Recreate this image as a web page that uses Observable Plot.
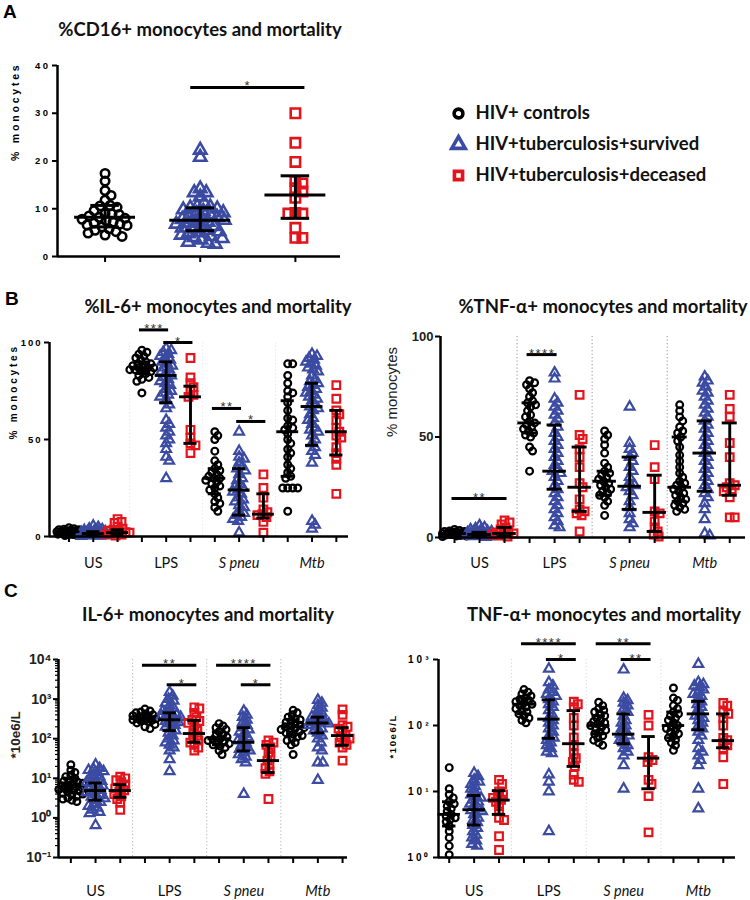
<!DOCTYPE html>
<html><head><meta charset="utf-8">
<script src="https://cdn.jsdelivr.net/npm/d3@7"></script>
<script src="https://cdn.jsdelivr.net/npm/@observablehq/plot@0.6"></script>
<style>
body{margin:0;background:#fff;}
#root{position:relative;width:750px;height:900px;overflow:hidden;background:#fff;}
.pane{position:absolute;}
.pane svg{overflow:visible;}
.tickA g[aria-label="y-axis tick label"] text{letter-spacing:2.5px;}
.tickB g[aria-label="y-axis tick label"] text{letter-spacing:2px;}
.tickCR g[aria-label="y-axis tick label"] text{letter-spacing:3px;}
g[aria-description="ylab-spaced"] text{letter-spacing:2.8px;}
g[aria-description="ylab-spaced2"] text{letter-spacing:1.6px;}
g[aria-description="stars"] text{letter-spacing:1.5px;}
</style></head><body><div id="root"></div>
<script>
// ---------- categories / series ----------
const stimuli = ["US", "LPS", "S pneu", "Mtb"];
const stimItalic = [false, false, true, true];
const seriesNames = ["HIV+ controls", "HIV+tuberculosis+survived", "HIV+tuberculosis+deceased"];
const seriesSymbols = ["circle", "triangle", "square"];
const seriesColors = ["#000000", "#3B4BA2", "#E3151C"];

// ---------- Panel A: %CD16+ monocytes ----------
const cd16Controls = [17.4, 15.8, 13.8, 12.8, 11.8, 10.7, 10.6, 10.3, 9.6, 9.0, 8.9, 8.8, 8.5, 8.2, 8.0, 7.8, 7.5, 7.2, 7.0, 6.8, 6.6, 6.5, 6.2, 5.8, 5.5, 5.2, 4.9, 4.5, 4.2];
const cd16Survived = [22.3, 20.8, 14.2, 13.4, 13.4, 12.5, 11.2, 10.5, 10.4, 10.2, 10.0, 9.8, 9.5, 9.2, 9.0, 8.8, 8.5, 8.2, 8.0, 7.8, 7.6, 7.4, 7.2, 7.0, 6.8, 6.5, 6.3, 6.0, 5.8, 5.5, 5.2, 5.0, 4.8, 4.5, 4.2, 4.0, 3.8, 3.5, 3.0, 2.8, 2.6];
const cd16Deceased = [30.0, 23.8, 19.8, 15.8, 15.3, 14.3, 13.6, 12.3, 9.0, 9.0, 9.1, 6.0, 3.9, 3.9];
const cd16Median = [8.2, 7.6, 12.9];
const cd16Q1 = [6.2, 5.4, 8.0];
const cd16Q3 = [10.7, 10.2, 16.9];
const cd16Sig = [{from: 1, to: 2, y: 35.4, label: "*"}];

// ---------- Panel B left: %IL-6+ monocytes (per stimulus: US, LPS, S pneu, Mtb) ----------
const il6PctControls = [
  [4.5, 4, 3.8, 3.5, 3.2, 3, 3, 2.8, 2.5, 2.5, 2.2, 2, 2, 1.8, 1.5, 1.5, 1.2, 1, 1, 0.8, 0.5, 3.5, 2.7, 2.3, 1.7, 1.3],
  [96, 95, 94, 93, 92, 91, 90, 89, 89, 88, 88, 87, 87, 87, 86, 86, 85, 85, 84, 83, 82, 81, 80, 74],
  [54, 52, 50, 44, 39, 37, 35, 34, 33, 32, 31, 30, 30, 29, 28, 27, 26, 25, 24, 22, 20, 18, 17, 15, 13],
  [89, 89, 83, 79, 75, 74, 72, 69, 65, 61, 60, 57, 56, 55, 53, 50, 48, 45, 43, 41, 37, 35, 33, 31, 30, 25, 25, 25, 25, 13]];
const il6PctSurvived = [
  [5.5, 4.8, 4, 3.6, 3.2, 3, 2.8, 2.5, 2.2, 2, 2, 1.8, 1.6, 1.5, 1.4, 1.2, 1, 1, 0.9, 0.8, 0.6, 0.5, 0.4, 0.3, 0.2, 1.3, 1.1, 0.7, 1.7, 2.4],
  [97, 96, 95, 94, 93, 92, 91, 90, 89, 88, 87, 86, 85, 84, 83, 82, 81, 80, 79, 78, 76, 75, 74, 73, 72, 70, 68, 66, 60, 58, 56, 54, 52, 50, 48, 45, 41, 39, 30],
  [54, 44, 41, 40, 38, 36, 35, 34, 32, 30, 29, 27, 26, 25, 24, 23, 22, 20, 19, 18, 16, 15, 13, 12, 11, 10, 9, 8, 2],
  [94, 93, 92, 91, 90, 89, 88, 87, 86, 85, 83, 81, 80, 79, 78, 77, 76, 75, 74, 73, 72, 71, 70, 68, 67, 66, 65, 63, 61, 60, 58, 56, 55, 54, 52, 50, 48, 46, 44, 42, 38, 8, 6, 4]];
const il6PctDeceased = [
  [9, 7.5, 7, 5, 4, 3.5, 3, 2.5, 2, 1.5, 1.2, 1, 0.5, 2.2],
  [92, 82, 79, 77, 75, 73, 72, 55, 51, 48, 47, 43],
  [32, 25, 20, 14, 12.5, 11.5, 11, 10, 7.5, 2],
  [78, 71, 65, 63, 60, 56, 54, 52, 51, 46, 43, 40, 37, 22]];
const il6PctMedian = [2.5, 1.5, 2, 87, 83, 72, 30, 24, 11.5, 54, 67, 54];
const il6PctQ1 = [1.5, 0.8, 1, 84, 69, 48, 22, 11, 9.5, 31, 47, 42];
const il6PctQ3 = [3.2, 2.5, 3.5, 90, 90, 77.5, 35, 35, 22, 70, 79, 65];
const il6PctSig = [
  {from: 3, to: 4, y: 106.5, label: "***"}, {from: 4, to: 5, y: 100, label: "*"},
  {from: 6, to: 7, y: 66, label: "**"}, {from: 7, to: 8, y: 59.3, label: "*"}];

// ---------- Panel B right: %TNF-α+ monocytes ----------
const tnfPctControls = [
  [4, 3.5, 3, 3, 2.8, 2.5, 2.2, 2, 2, 1.8, 1.5, 1.2, 1, 0.8, 0.5, 3.2, 2.6, 1.6, 1.3, 0.7],
  [78, 77, 76, 74, 72, 70, 68, 67, 66, 65, 63, 61, 60, 58, 57, 56, 55, 54, 53, 52, 51, 50, 45, 43, 33],
  [53, 51, 49, 46, 42, 37, 35, 33, 32, 31, 30, 29, 28, 27, 26, 25, 24, 23, 22, 21, 20, 18, 16, 11],
  [66, 63, 60, 58, 55, 53, 52, 50, 48, 45, 41, 38, 35, 32, 30, 28, 27, 26, 25, 24, 23, 22, 21, 20, 19, 18, 17, 16, 15, 14, 13]];
const tnfPctSurvived = [
  [6, 5, 4.5, 4, 3.5, 3, 2.5, 2.2, 2, 1.8, 1.5, 1.4, 1.2, 1, 0.8, 0.6, 0.4, 0.2, 1.6, 2.7, 3.2, 1.1, 0.9],
  [82, 79, 69, 67, 65, 63, 61, 59, 57, 55, 52, 50, 48, 46, 44, 42, 40, 38, 36, 34, 33, 32, 30, 28, 26, 24, 22, 20, 18, 16, 14, 12, 10, 8, 6, 5],
  [65, 47, 44, 42, 40, 38, 35, 33, 30, 27, 26, 25, 23, 21, 18, 15, 12, 9, 7, 5],
  [80, 78, 77, 75, 73, 72, 70, 68, 66, 64, 62, 60, 58, 56, 54, 52, 50, 48, 46, 44, 42, 40, 38, 36, 34, 32, 30, 28, 26, 24, 22, 20, 17, 14, 9, 2, 1]];
const tnfPctDeceased = [
  [8.5, 7.5, 6.5, 5, 4, 3, 2.5, 2, 1.5, 1, 0.5, 2.2],
  [71, 51, 49, 44, 40, 35, 27, 25, 19, 14, 13, 12, 11, 3],
  [46, 35, 29, 13, 12, 8, 5, 3, 1.5, 0.5],
  [71, 64, 60, 47, 40, 27, 26, 25, 24, 23, 20, 10, 10]];
const tnfPctMedian = [2, 1.5, 2, 57, 33, 25, 28, 25.5, 12.5, 25, 42, 26];
const tnfPctQ1 = [1, 0.8, 0.5, 52, 24, 13, 21, 14, 3, 18, 23, 21];
const tnfPctQ3 = [3, 2.6, 5, 67, 56, 45, 33, 40, 31, 50, 58, 57];
const tnfPctSig = [{from: 0, to: 2, y: 19.4, label: "**"}, {from: 3, to: 4, y: 91, label: "****"}];

// ---------- Panel C left: IL-6+ monocytes (*10e6/L) ----------
const il6AbsControls = [
  [22, 16, 14, 12, 11, 10, 9, 8.5, 8, 7.5, 7, 6.8, 6.5, 6.2, 6, 5.8, 5.5, 5.2, 5, 4.8, 4.5, 4.2, 4, 3.8, 3.5, 3.2, 3, 2.8, 2.6],
  [560, 500, 470, 450, 420, 400, 380, 360, 340, 330, 320, 310, 300, 290, 280, 270, 250, 230, 200, 180],
  [240, 210, 190, 170, 150, 130, 120, 110, 100, 95, 90, 85, 80, 75, 70, 65, 60, 50, 40],
  [520, 450, 400, 350, 320, 300, 280, 260, 240, 220, 210, 200, 190, 180, 170, 160, 150, 140, 130, 120, 110, 100, 90, 80, 70, 40]];
const il6AbsSurvived = [
  [22, 18, 17, 16, 15, 14, 12, 11, 10, 9, 8.5, 8, 7.5, 7, 6.5, 6, 5.5, 5, 4.7, 4.4, 4, 3.7, 3.4, 3.1, 2.8, 2.5, 2.2, 2, 1.8, 1.6, 1.4, 1.3, 0.65],
  [1500, 1200, 1000, 900, 800, 700, 600, 550, 500, 450, 420, 400, 380, 350, 320, 300, 280, 260, 240, 220, 200, 180, 160, 140, 120, 100, 90, 80, 70, 60, 50, 30, 15],
  [500, 400, 350, 300, 260, 220, 190, 170, 150, 130, 110, 100, 90, 80, 70, 60, 55, 50, 45, 40, 35, 30, 25, 4],
  [950, 800, 700, 600, 520, 450, 400, 360, 330, 300, 280, 260, 250, 240, 220, 200, 180, 160, 140, 120, 100, 80, 60, 50, 25, 25, 9]];
const il6AbsDeceased = [
  [11, 10, 9, 8, 7, 6, 5.5, 5, 4.5, 4, 3.5, 3, 2.4, 1.6],
  [620, 580, 450, 350, 300, 280, 250, 200, 160, 140, 120, 100, 90, 80, 70, 60, 50],
  [90, 80, 70, 60, 45, 35, 28, 22, 18, 15, 13, 3],
  [550, 400, 220, 200, 180, 150, 120, 110, 100, 90, 80, 70, 60, 28]];
const il6AbsMedian = [6.5, 4.9, 4.9, 330, 300, 135, 100, 81, 28, 200, 250, 120];
const il6AbsQ1 = [4.5, 2.8, 3.3, 270, 160, 81, 70, 49, 14, 130, 140, 68];
const il6AbsQ3 = [10, 7.6, 6.9, 420, 450, 290, 150, 190, 68, 300, 350, 190];
const il6AbsSig = [
  {from: 3, to: 5, y: 7200, label: "**"}, {from: 4, to: 5, y: 2300, label: "*"},
  {from: 6, to: 8, y: 7200, label: "****"}, {from: 7, to: 8, y: 2300, label: "*"}];

// ---------- Panel C right: TNF-α+ monocytes (*10e6/L) ----------
const tnfAbsControls = [
  [23, 11, 9, 8, 7, 6.5, 6, 5.5, 5, 4.5, 4.2, 4, 3.8, 3.5, 3, 2.5, 2, 1.5, 1.1],
  [350, 320, 300, 280, 260, 250, 240, 230, 220, 210, 200, 190, 180, 170, 160, 150, 140, 130, 120, 110],
  [225, 200, 180, 170, 160, 150, 140, 130, 120, 115, 110, 105, 100, 95, 90, 85, 80, 75, 70, 65, 60, 55, 50],
  [370, 260, 240, 200, 180, 160, 150, 140, 130, 120, 110, 100, 95, 90, 85, 80, 75, 70, 65, 60, 55, 50, 42]];
const tnfAbsSurvived = [
  [19, 17, 15, 14, 13, 12, 11, 10, 9, 8.5, 8, 7.5, 7, 6.5, 6, 5.5, 5.2, 5, 4.5, 4, 3.7, 3.4, 3.1, 2.8, 2.5, 2.2, 2, 1.8, 1.6, 1.5],
  [720, 450, 400, 350, 320, 300, 280, 250, 230, 210, 190, 170, 150, 130, 120, 110, 100, 90, 80, 70, 65, 60, 55, 50, 45, 40, 38, 18, 14, 10, 2.5],
  [700, 260, 240, 220, 200, 180, 160, 140, 120, 110, 100, 90, 80, 75, 70, 65, 60, 55, 50, 45, 40, 35, 25, 11],
  [850, 450, 420, 400, 380, 350, 320, 300, 280, 250, 230, 210, 190, 170, 150, 140, 130, 120, 110, 100, 90, 80, 70, 60, 45, 40, 35, 30, 25, 11, 5.5]];
const tnfAbsDeceased = [
  [15, 13, 10, 9, 8.5, 8, 7.5, 7, 6, 5, 4, 3.7, 2.1, 1.3],
  [230, 210, 190, 130, 100, 66, 50, 37, 32, 28, 24, 18, 15, 14],
  [145, 100, 33, 30, 28, 15, 13, 8.5, 2.4],
  [220, 200, 160, 150, 130, 100, 65, 60, 55, 50, 45, 33, 13]];
const tnfAbsMedian = [4.5, 5.3, 7.4, 210, 125, 53, 100, 74, 32, 100, 150, 59];
const tnfAbsQ1 = [3, 3.1, 4.5, 150, 64, 24, 75, 53, 11, 65, 86, 46];
const tnfAbsQ3 = [7, 8.7, 10.3, 260, 245, 168, 140, 150, 68, 160, 233, 150];
const tnfAbsSig = [
  {from: 3, to: 5, y: 1730, label: "****"}, {from: 4, to: 5, y: 1000, label: "*"},
  {from: 6, to: 8, y: 1730, label: "**"}, {from: 7, to: 8, y: 1000, label: "**"}];

// ---------- helpers ----------
const supMap = {"-": "⁻", "0": "⁰", "1": "¹", "2": "²", "3": "³", "4": "⁴", "5": "⁵", "6": "⁶", "7": "⁷", "8": "⁸", "9": "⁹"};
const powFmt = d => "10" + String(Math.round(Math.log10(d))).split("").map(c => supMap[c]).join("");

function swarmOffsets(values, yPx, d, maxHalf) {
  const order = values.map((v, i) => i).sort((a, b) => yPx(values[a]) - yPx(values[b]));
  const placed = [], out = new Array(values.length).fill(0);
  for (const i of order) {
    const y = yPx(values[i]);
    let best = 0, bestD = -1;
    for (let k = 0; k <= 2 * maxHalf; k++) {
      const off = k === 0 ? 0 : (k % 2 ? 1 : -1) * Math.ceil(k / 2);
      let m = Infinity;
      for (const p of placed) { const dd = Math.hypot(p[0] - off, p[1] - y); if (dd < m) m = dd; }
      if (m >= d) { best = off; bestD = Infinity; break; }
      if (m > bestD + 0.01) { bestD = m; best = off; }
    }
    placed.push([best, y]); out[i] = best;
  }
  return out;
}

const root = document.getElementById("root");
const FONT = "'Liberation Sans', Arial, sans-serif";

function drawPanel(c) {
  const nStim = c.series[0].length;
  const nGroups = nStim * 3;
  const yPx = (c.yType === "log" ? d3.scaleLog() : d3.scaleLinear()).domain(c.yDomain).range([c.height - c.mB, c.mT]);
  const ppu = (c.width - c.mL - c.mR) / (c.xDomain[1] - c.xDomain[0]);
  const pts = [[], [], []];
  c.series.forEach((stimArrays, s) => stimArrays.forEach((vals, k) => {
    const g = k * 3 + s;
    const offs = swarmOffsets(vals, yPx, c.swarmD, c.swarmMax);
    vals.forEach((v, i) => pts[s].push({x: g + offs[i] / ppu, y: v}));
  }));
  const stats = c.med.map((m, g) => ({g, med: m, q1: c.q1[g], q3: c.q3[g]}));
  const sig = c.sig.map(d => ({...d, x1: d.from - 0.1, x2: d.to + 0.1, xm: (d.from + d.to) / 2}));
  const marks = [];
  if (c.sepOpacity) {
    marks.push(Plot.ruleX(d3.range(1, nStim).map(k => k * 3 - 0.5), {stroke: "#777", strokeOpacity: c.sepOpacity, strokeWidth: 1, strokeDasharray: "1.2,2.3"}));
  }
  pts.forEach((p, s) => marks.push(Plot.dot(p, {x: "x", y: "y", symbol: seriesSymbols[s], r: c.r[s], stroke: seriesColors[s], fill: "none", strokeWidth: c.sw})));
  marks.push(
    Plot.ruleX(stats, {x: "g", y1: "q1", y2: "q3", strokeWidth: c.ebW, stroke: "#000"}),
    Plot.ruleY(stats, {y: "q1", x1: d => d.g - c.capHalf, x2: d => d.g + c.capHalf, strokeWidth: c.ebW, stroke: "#000"}),
    Plot.ruleY(stats, {y: "q3", x1: d => d.g - c.capHalf, x2: d => d.g + c.capHalf, strokeWidth: c.ebW, stroke: "#000"}),
    Plot.ruleY(stats, {y: "med", x1: d => d.g - c.medHalf, x2: d => d.g + c.medHalf, strokeWidth: c.ebW, stroke: "#000"}),
    Plot.ruleY(sig, {y: "y", x1: "x1", x2: "x2", strokeWidth: 3, stroke: "#000"}),
    Plot.text(sig, {x: "xm", y: "y", text: "label", lineAnchor: "bottom", dy: 3, fontSize: 13, fill: "#333", fontFamily: FONT, ariaDescription: "stars"}),
    Plot.ruleX([c.xDomain[0]], {strokeWidth: 2.5, stroke: "#000"}),
    Plot.ruleY([c.yDomain[0]], {strokeWidth: 2.5, stroke: "#000"}),
    Plot.axisY({ticks: c.yTicks, tickFormat: c.yFmt, tickSize: 5, tickPadding: c.tickPad ?? 2, strokeWidth: 2, fontSize: c.tickFont, fontWeight: c.tickWeight, fontFamily: FONT, fill: c.tickColor || "#000", label: null}),
    Plot.axisX({ticks: d3.range(nGroups), tickSize: 6, strokeWidth: 2, tickFormat: () => "", label: null})
  );
  if (c.minorTicks) marks.push(Plot.axisY({ticks: c.minorTicks, tickSize: 3, strokeWidth: 1.2, tickFormat: () => "", label: null}));
  if (c.stimLabels) {
    const rows = stimuli.map((name, k) => ({name, pos: k * 3 + 1, italic: stimItalic[k]}));
    marks.push(
      Plot.text(rows.filter(d => !d.italic), {x: "pos", frameAnchor: "bottom", text: "name", dy: c.labelDy, lineAnchor: "bottom", fontSize: 14.5, fontFamily: "Lato", fill: "#111"}),
      Plot.text(rows.filter(d => d.italic), {x: "pos", frameAnchor: "bottom", text: "name", dy: c.labelDy, lineAnchor: "bottom", fontSize: 14.5, fontFamily: "Lato", fontStyle: "italic", fill: "#111"}));
  }
  marks.push(Plot.text([c.yLabel], {text: d => d, frameAnchor: "left", rotate: -90, dx: -c.yLabelDx, fontSize: c.yLabelFont, fontWeight: c.yLabelWeight, fontFamily: FONT, fill: c.tickColor || "#000", ariaDescription: c.yLabelClass || "ylab"}));

  const chart = Plot.plot({
    width: c.width, height: c.height,
    marginLeft: c.mL, marginRight: c.mR, marginTop: c.mT, marginBottom: c.mB,
    x: {domain: c.xDomain, label: null},
    y: {domain: c.yDomain, type: c.yType || "linear", label: null},
    style: {background: "transparent", color: "#000", fontFamily: FONT, overflow: "visible"},
    marks
  });
  const div = document.createElement("div");
  div.className = "pane " + (c.cls || "");
  div.style.left = c.left + "px"; div.style.top = c.top + "px"; div.style.width = c.width + "px";
  div.appendChild(chart);
  root.appendChild(div);
}

// ---------- Panel A ----------
drawPanel({
  left: 0, top: 40, width: 350, height: 240, mL: 57, mR: 10, mT: 25, mB: 24,
  xDomain: [-0.5, 2.474], yDomain: [0, 40], yTicks: [0, 10, 20, 30, 40], yFmt: d => String(d),
  series: [[cd16Controls], [cd16Survived], [cd16Deceased]],
  med: cd16Median, q1: cd16Q1, q3: cd16Q3, sig: cd16Sig,
  r: [4.2, 4.6, 5.3], sw: 2.6, swarmD: 7, swarmMax: 34, medHalf: 0.32, capHalf: 0.15, ebW: 3,
  tickFont: 9.5, tickWeight: "bold", cls: "tickA",
  yLabel: "% monocytes", yLabelDx: 42, yLabelFont: 10.5, yLabelWeight: "bold", yLabelClass: "ylab-spaced"
});

// ---------- Panel B left ----------
drawPanel({
  left: 0, top: 320, width: 360, height: 260, mL: 49, mR: 12, mT: 22, mB: 44,
  xDomain: [-0.8, 11.5], yDomain: [0, 100], yTicks: [0, 50, 100], yFmt: d => String(d),
  series: [il6PctControls, il6PctSurvived, il6PctDeceased],
  med: il6PctMedian, q1: il6PctQ1, q3: il6PctQ3, sig: il6PctSig,
  r: [3.4, 3.6, 4.3], sw: 2.2, swarmD: 4.6, swarmMax: 12, medHalf: 0.45, capHalf: 0.27, ebW: 2.9,
  sepOpacity: 0.2, stimLabels: true, labelDy: 31,
  tickFont: 9.5, tickWeight: "bold", cls: "tickB",
  yLabel: "% monocytes", yLabelDx: 36, yLabelFont: 10, yLabelWeight: "bold", yLabelClass: "ylab-spaced"
});

// ---------- Panel B right ----------
drawPanel({
  left: 375, top: 316, width: 375, height: 264, mL: 65, mR: 5, mT: 20, mB: 43,
  xDomain: [-0.56, 11.63], yDomain: [0, 100], yTicks: [0, 50, 100], yFmt: d => String(d),
  series: [tnfPctControls, tnfPctSurvived, tnfPctDeceased],
  med: tnfPctMedian, q1: tnfPctQ1, q3: tnfPctQ3, sig: tnfPctSig,
  r: [3.4, 3.6, 4.3], sw: 2.2, swarmD: 4.6, swarmMax: 12, medHalf: 0.47, capHalf: 0.3, ebW: 2.9,
  sepOpacity: 0.8, stimLabels: true, labelDy: 30,
  tickFont: 13, tickWeight: "bold", tickColor: "#222",
  yLabel: "% monocytes", yLabelDx: 48, yLabelFont: 15, yLabelWeight: "normal"
});

// ---------- Panel C left ----------
const il6Minor = d3.range(-1, 4).flatMap(e => d3.range(2, 10).map(m => m * Math.pow(10, e)));
drawPanel({
  left: 0, top: 630, width: 360, height: 270, mL: 58, mR: 13, mT: 29, mB: 43,
  xDomain: [-0.5, 11.2], yDomain: [0.1, 10000], yType: "log", yTicks: [0.1, 1, 10, 100, 1000, 10000], yFmt: powFmt,
  minorTicks: il6Minor,
  series: [il6AbsControls, il6AbsSurvived, il6AbsDeceased],
  med: il6AbsMedian, q1: il6AbsQ1, q3: il6AbsQ3, sig: il6AbsSig,
  r: [3.4, 3.6, 4.3], sw: 2.2, swarmD: 4.6, swarmMax: 12, medHalf: 0.45, capHalf: 0.27, ebW: 2.9,
  sepOpacity: 0.55, stimLabels: true, labelDy: 38,
  tickFont: 14, tickWeight: "bold", tickColor: "#222",
  yLabel: "*10e6/L", yLabelDx: 43, yLabelFont: 13.5, yLabelWeight: "bold"
});

// ---------- Panel C right ----------
drawPanel({
  left: 375, top: 630, width: 375, height: 270, mL: 63, mR: 15, mT: 29, mB: 43,
  xDomain: [-0.43, 11.49], yDomain: [1, 1000], yType: "log", yTicks: [1, 10, 100, 1000], yFmt: powFmt,
  series: [tnfAbsControls, tnfAbsSurvived, tnfAbsDeceased],
  med: tnfAbsMedian, q1: tnfAbsQ1, q3: tnfAbsQ3, sig: tnfAbsSig,
  r: [3.4, 3.6, 4.3], sw: 2.2, swarmD: 4.6, swarmMax: 12, medHalf: 0.45, capHalf: 0.27, ebW: 2.9,
  sepOpacity: 0.3, stimLabels: true, labelDy: 38,
  tickFont: 10, tickWeight: "bold", cls: "tickCR",
  yLabel: "*10e6/L", yLabelDx: 46, yLabelFont: 9.5, yLabelWeight: "bold", yLabelClass: "ylab-spaced2"
});

// ---------- Legend ----------
{
  const legend = Plot.plot({
    width: 310, height: 95, marginTop: 18, marginBottom: 15, marginLeft: 0, marginRight: 0,
    x: {domain: [0, 1], axis: null},
    y: {type: "point", domain: seriesNames, padding: 0, axis: null},
    style: {background: "transparent", overflow: "visible"},
    marks: [
      ...seriesNames.map((name, i) => Plot.dot([name], {y: d => d, frameAnchor: "left", dx: 18, symbol: seriesSymbols[i], r: [4.4, 5, 4.6][i], stroke: seriesColors[i], fill: "none", strokeWidth: 3.6})),
      Plot.text(seriesNames, {y: d => d, text: d => d, frameAnchor: "left", dx: 35, textAnchor: "start", fontSize: 18.5, fontWeight: "bold", fontFamily: "Lato", fill: "#111"})
    ]
  });
  const div = document.createElement("div");
  div.className = "pane"; div.style.left = "440px"; div.style.top = "95px";
  div.appendChild(legend); root.appendChild(div);
}

// ---------- Titles and panel letters ----------
const titles = [
  {text: "%CD16+ monocytes and mortality", x: 200, y: 36},
  {text: "%IL-6+ monocytes and mortality", x: 218, y: 313},
  {text: "%TNF-α+ monocytes and mortality", x: 603, y: 313},
  {text: "IL-6+ monocytes and mortality", x: 208, y: 621},
  {text: "TNF-α+ monocytes and mortality", x: 604, y: 621}];
const letters = [{text: "A", x: 3, y: 18}, {text: "B", x: 5, y: 305}, {text: "C", x: 4, y: 597}];
const ov = d3.select(root).append("svg").attr("width", 750).attr("height", 900)
  .style("position", "absolute").style("left", 0).style("top", 0).style("pointer-events", "none");
ov.selectAll("text.t").data(titles).join("text").attr("class", "t")
  .attr("x", d => d.x).attr("y", d => d.y).attr("text-anchor", "middle")
  .attr("font-family", "Lato").attr("font-weight", "bold").attr("font-size", 18.5).attr("fill", "#111").text(d => d.text);
ov.selectAll("text.l").data(letters).join("text").attr("class", "l")
  .attr("x", d => d.x).attr("y", d => d.y)
  .attr("font-family", FONT).attr("font-weight", "bold").attr("font-size", 19).attr("fill", "#000").text(d => d.text);
</script></body></html>
